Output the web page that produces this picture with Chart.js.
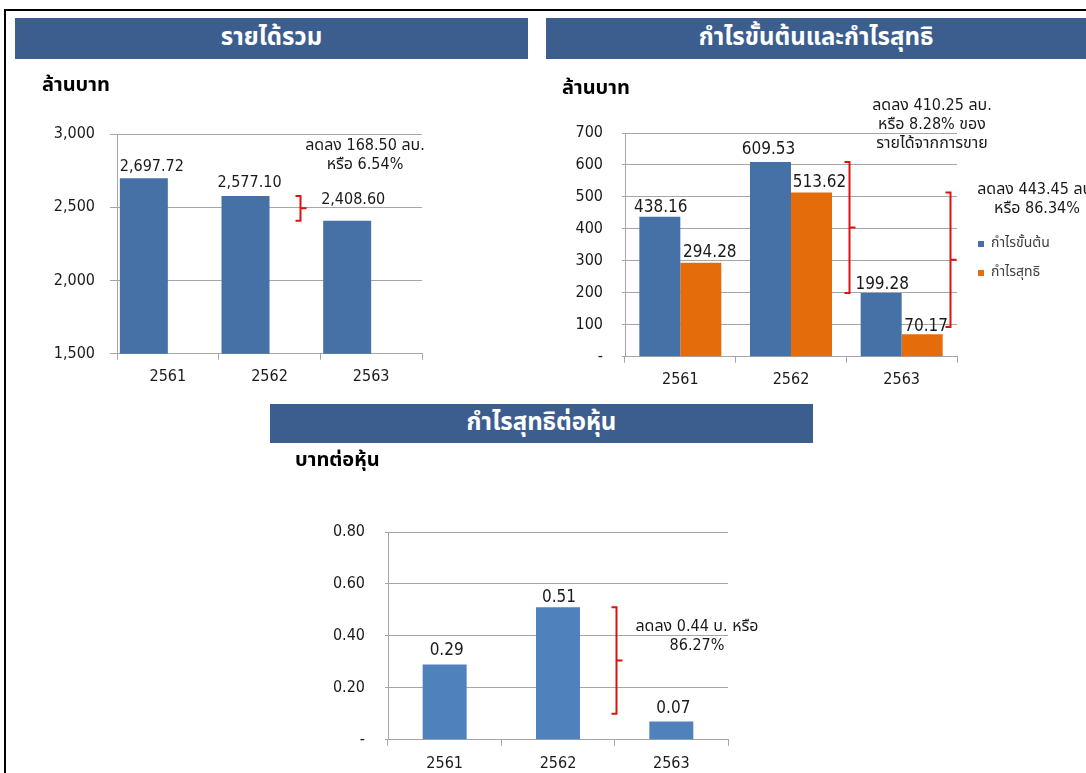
<!DOCTYPE html>
<html>
<head>
<meta charset="utf-8">
<script src="https://cdn.jsdelivr.net/npm/chart.js@4.4.1/dist/chart.umd.min.js"></script>
<style>
html, body { margin: 0; padding: 0; background: #fff; width: 1086px; height: 773px; overflow: hidden; }
body { position: relative; }
.frame { position: absolute; left: 4px; top: 9px; width: 1200px; height: 900px; border: 2px solid #000; box-sizing: border-box; }
.banner { position: absolute; background: #3b5e8f; color: #fff; font: bold 24px Tahoma, "Noto Sans Thai", "DejaVu Sans", sans-serif; text-align: center; }
.box { position: absolute; }
</style>
</head>
<body>
<div class="frame"></div>
<div class="banner" style="left:15px;top:18px;width:513px;height:41px;line-height:41px">รายได้รวม</div>
<div class="banner" style="left:546px;top:18px;width:540px;height:41px;line-height:41px">กำไรขั้นต้นและกำไรสุทธิ</div>
<div class="banner" style="left:270px;top:404px;width:543px;height:39px;line-height:39px">กำไรสุทธิต่อหุ้น</div>

<div class="box" style="left:42px;top:70px;width:408px;height:327px"><canvas id="revChart"></canvas></div>
<div class="box" style="left:562px;top:70px;width:524px;height:327px"><canvas id="profitChart"></canvas></div>
<div class="box" style="left:295px;top:445px;width:480px;height:336px"><canvas id="epsChart"></canvas></div>

<script>
// data
var years = ['2561', '2562', '2563'];
var revenue = [2697.72, 2577.10, 2408.60];
var grossProfit = [438.16, 609.53, 199.28];
var netProfit = [294.28, 513.62, 70.17];
var eps = [0.29, 0.51, 0.07];
var revenueTicks = [1500, 2000, 2500, 3000];
var profitTicks = [0, 100, 200, 300, 400, 500, 600, 700];
var epsTicks = [0, 0.2, 0.4, 0.6, 0.8];

var NUM = '"DejaVu Sans Condensed", "DejaVu Sans", Tahoma, "Noto Sans Thai", sans-serif';
var THAI = 'Tahoma, "Noto Sans Thai", "DejaVu Sans", sans-serif';
var GRID = '#a6a6a6';
var INK = '#1a1a1a';
var UNIT_SIZE = 20;

// value labels, red braces and notes
var notes = {
  id: 'notes',
  afterDatasetsDraw: function(chart, args, opts) {
    var ctx = chart.ctx, a = chart.chartArea, x = chart.scales.x, y = chart.scales.y;
    ctx.save();
    ctx.textAlign = 'center';
    ctx.textBaseline = 'middle';
    (opts.labels || []).forEach(function(lab) {
      var meta = chart.getDatasetMeta(lab.dataset);
      var vals = chart.data.datasets[lab.dataset].data;
      ctx.font = lab.size + 'px ' + NUM;
      ctx.fillStyle = INK;
      meta.data.forEach(function(bar, i) {
        var sh = lab.shift[i] || lab.shift[0];
        ctx.fillText(lab.format(vals[i]), bar.x + sh[0], bar.y + sh[1]);
      });
    });
    ctx.strokeStyle = '#e01010';
    ctx.lineWidth = 2;
    (opts.braces || []).forEach(function(b) {
      var bx = Math.round(x.getPixelForValue(b.at)) + 0.5;
      var t = y.getPixelForValue(b.from), btm = y.getPixelForValue(b.to), m = (t + btm) / 2;
      ctx.beginPath();
      ctx.moveTo(bx - 5, t); ctx.lineTo(bx, t); ctx.lineTo(bx, btm); ctx.lineTo(bx - 5, btm);
      ctx.moveTo(bx, m); ctx.lineTo(bx + 6, m);
      ctx.stroke();
    });
    ctx.fillStyle = INK;
    ctx.font = '16px ' + NUM;
    (opts.texts || []).forEach(function(tx) {
      tx.lines.forEach(function(line, i) {
        ctx.fillText(line, a.right + tx.dx, a.top + tx.dy + i * 19);
      });
    });
    ctx.restore();
  }
};

function yAxis(ticks, width, tickLen, pad, fmt) {
  return {
    min: ticks[0], max: ticks[ticks.length - 1],
    afterBuildTicks: function(s) { s.ticks = ticks.map(function(v) { return {value: v}; }); },
    afterFit: function(s) { s.width = width; },
    grid: {color: GRID, tickLength: tickLen},
    border: {color: GRID},
    ticks: {padding: pad, color: INK, font: {family: NUM, size: 16}, callback: fmt}
  };
}
function xAxis(pad) {
  return {
    grid: {drawOnChartArea: false, tickLength: 6, color: GRID},
    border: {color: GRID},
    ticks: {padding: pad, color: INK, font: {family: NUM, size: 16}}
  };
}
function unitTitle(text, bottom) {
  return {display: true, text: text, align: 'start', color: '#000',
    font: {family: THAI, size: UNIT_SIZE, weight: 'bold'}, padding: {top: 0, bottom: bottom}};
}

new Chart(document.getElementById('revChart'), {
  type: 'bar',
  data: {
    labels: years,
    datasets: [
      {label: 'รายได้รวม', data: revenue, backgroundColor: '#4571a7'},
      {label: '', data: []}
    ]
  },
  options: {
    responsive: true, maintainAspectRatio: false, animation: false,
    categoryPercentage: 0.944, barPercentage: 1,
    layout: {padding: {top: 5, right: 28, bottom: 4, left: 0}},
    scales: {
      x: xAxis(7),
      y: yAxis(revenueTicks, 75, 7, 15, function(v) { return v.toLocaleString('en-US'); })
    },
    plugins: {
      legend: {display: false}, tooltip: {enabled: false},
      title: unitTitle('ล้านบาท', 35),
      notes: {
        labels: [{dataset: 0, size: 16, format: function(v) { return v.toLocaleString('en-US', {minimumFractionDigits: 2}); },
                  shift: [[8, -11], [4, -13], [6, -21]]}],
        braces: [{at: 1.3, from: 2577.10, to: 2408.60}],
        texts: [{dx: -57, dy: 12, lines: ['ลดลง 168.50 ลบ.', 'หรือ 6.54%']}]
      }
    }
  },
  plugins: [notes]
});

var profit = new Chart(document.getElementById('profitChart'), {
  type: 'bar',
  data: {
    labels: years,
    datasets: [
      {label: 'กำไรขั้นต้น', data: grossProfit, backgroundColor: '#4571a7'},
      {label: 'กำไรสุทธิ', data: netProfit, backgroundColor: '#e46c0a'}
    ]
  },
  options: {
    responsive: true, maintainAspectRatio: false, animation: false,
    categoryPercentage: 0.741, barPercentage: 1,
    layout: {padding: {top: 8, right: 30, bottom: 1, left: 0}},
    scales: {
      x: xAxis(7),
      y: yAxis(profitTicks, 63, 3, 19, function(v) { return v === 0 ? '-' : v; }),
      // empty strip between plot and legend
      gap: {position: 'right', display: true, grid: {display: false}, border: {display: false},
            ticks: {display: false}, afterFit: function(s) { s.width = 6; }}
    },
    plugins: {
      tooltip: {enabled: false},
      title: unitTitle('ล้านบาท', 31),
      legend: {
        position: 'right', fullSize: false, maxWidth: 160,
        title: {display: true, text: '', padding: {top: 12.6, bottom: 0}},
        labels: {boxWidth: 6, boxHeight: 6, padding: 15, color: '#404040', font: {family: THAI, size: 14}}
      },
      notes: {
        labels: [
          {dataset: 0, size: 17, format: function(v) { return v.toFixed(2); }, shift: [[1, -9], [-2, -12], [1, -9]]},
          {dataset: 1, size: 17, format: function(v) { return v.toFixed(2); }, shift: [[9, -10], [8, -10], [4, -8]]}
        ],
        braces: [{at: 1.525, from: 609.53, to: 199.28}, {at: 2.44, from: 513.62, to: 93}],
        texts: [
          {dx: -25, dy: -27, lines: ['ลดลง 410.25 ลบ.', 'หรือ 8.28% ของ', 'รายได้จากการขาย']},
          {dx: 80, dy: 57, lines: ['ลดลง 443.45 ลบ.', 'หรือ 86.34%']}
        ]
      }
    }
  },
  plugins: [notes]
});
// keep the plot's right edge where the original has it, whatever the legend width
var shift = profit.chartArea.right - 395;
if (Math.abs(shift) > 0.5) {
  profit.options.layout.padding.right += shift;
  profit.update('none');
}

new Chart(document.getElementById('epsChart'), {
  type: 'bar',
  data: {
    labels: years,
    datasets: [{label: 'กำไรสุทธิต่อหุ้น', data: eps, backgroundColor: '#4f81bd'}]
  },
  options: {
    responsive: true, maintainAspectRatio: false, animation: false,
    categoryPercentage: 1, barPercentage: 0.388,
    layout: {padding: {top: 5, right: 47, bottom: 0, left: 0}},
    scales: {
      x: xAxis(8),
      y: yAxis(epsTicks, 93, 3, 20, function(v) { return v === 0 ? '-' : v.toFixed(2); })
    },
    plugins: {
      legend: {display: false}, tooltip: {enabled: false},
      title: unitTitle('บาทต่อหุ้น', 58),
      notes: {
        labels: [{dataset: 0, size: 17, format: function(v) { return v.toFixed(2); }, shift: [[2, -14], [1, -10], [2, -13]]}],
        braces: [{at: 1.51, from: 0.51, to: 0.10}],
        texts: [{dx: -31, dy: 95, lines: ['ลดลง 0.44 บ. หรือ', '86.27%']}]
      }
    }
  },
  plugins: [notes]
});
</script>
</body>
</html>
